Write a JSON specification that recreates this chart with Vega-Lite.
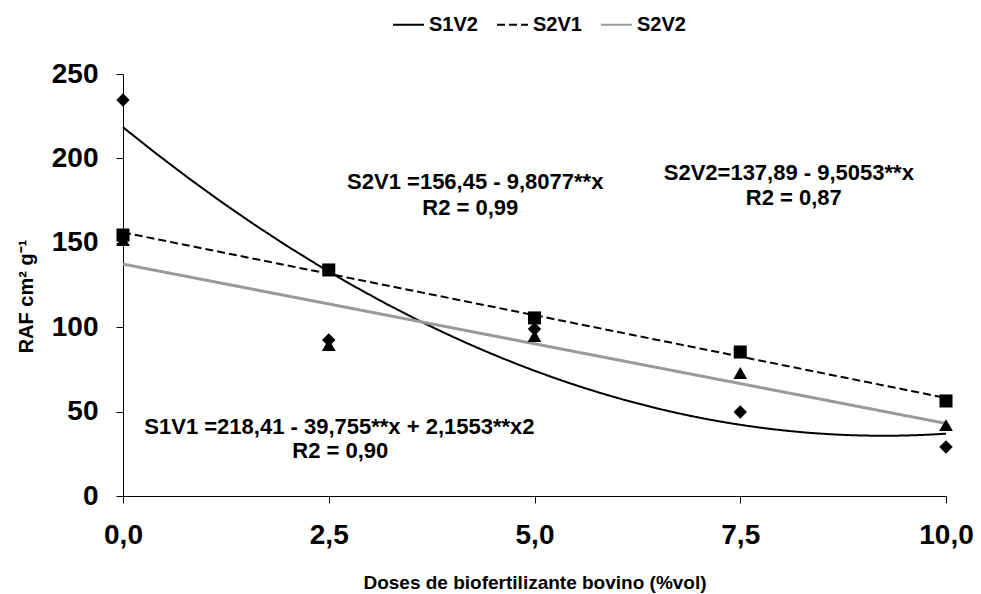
{
  "$schema": "https://vega.github.io/schema/vega-lite/v6.json",
  "width": 823,
  "height": 422,
  "autosize": {"type": "none"},
  "padding": {"left": 123, "top": 74, "right": 35, "bottom": 98},
  "background": "white",
  "config": {"view": {"stroke": null}, "font": "Liberation Sans"},
  "datasets": {
    "pts": [
      {"series": "S1V2", "dose": 0, "raf": 234.6},
      {"series": "S1V2", "dose": 2.5, "raf": 92.4},
      {"series": "S1V2", "dose": 5, "raf": 98.9},
      {"series": "S1V2", "dose": 7.5, "raf": 49.8},
      {"series": "S1V2", "dose": 10, "raf": 29},
      {"series": "S2V1", "dose": 0, "raf": 154.6},
      {"series": "S2V1", "dose": 2.5, "raf": 133.9},
      {"series": "S2V1", "dose": 5, "raf": 105.5},
      {"series": "S2V1", "dose": 7.5, "raf": 85.3},
      {"series": "S2V1", "dose": 10, "raf": 56.3},
      {"series": "S2V2", "dose": 0, "raf": 151.7},
      {"series": "S2V2", "dose": 2.5, "raf": 89.5},
      {"series": "S2V2", "dose": 5, "raf": 94.8},
      {"series": "S2V2", "dose": 7.5, "raf": 72.9},
      {"series": "S2V2", "dose": 10, "raf": 42}
    ],
    "notes": [
      {"dose": 4.28, "raf": 181.9, "label": "S2V1 =156,45 - 9,8077**x"},
      {"dose": 4.22, "raf": 166.5, "label": "R2 = 0,99"},
      {"dose": 8.09, "raf": 187.2, "label": "S2V2=137,89 - 9,5053**x"},
      {"dose": 8.15, "raf": 172.4, "label": "R2 = 0,87"},
      {"dose": 2.63, "raf": 36.7, "label": "S1V1 =218,41 - 39,755**x + 2,1553**x2"},
      {"dose": 2.64, "raf": 22.5, "label": "R2 = 0,90"}
    ]
  },
  "encoding": {
    "x": {
      "field": "dose", "type": "quantitative",
      "scale": {"domain": [0, 10], "nice": false, "zero": false},
      "axis": {
        "title": "Doses de biofertilizante bovino (%vol)",
        "values": [0, 2.5, 5, 7.5, 10],
        "labelExpr": "replace(format(datum.value, '.1f'), '.', ',')",
        "grid": false, "domainColor": "black", "tickColor": "black", "tickSize": 7,
        "labelPadding": 18, "labelFlush": false, "labelOverlap": false,
        "labelFont": "Liberation Sans", "labelFontWeight": "bold", "labelFontSize": 28, "labelColor": "black",
        "titleFont": "Liberation Sans", "titleFontWeight": "bold", "titleFontSize": 19, "titleColor": "black",
        "titlePadding": 24
      }
    },
    "y": {
      "field": "raf", "type": "quantitative",
      "scale": {"domain": [0, 250], "nice": false},
      "axis": {
        "title": "RAF cm² g⁻¹",
        "values": [0, 50, 100, 150, 200, 250],
        "grid": false, "domainColor": "black", "tickColor": "black", "tickSize": 7,
        "labelPadding": 18, "labelFlush": false, "labelOverlap": false,
        "labelFont": "Liberation Sans", "labelFontWeight": "bold", "labelFontSize": 28, "labelColor": "black",
        "titleFont": "Liberation Sans", "titleFontWeight": "bold", "titleFontSize": 20, "titleColor": "black",
        "titlePadding": 15, "titleY": 222
      }
    }
  },
  "layer": [
    {
      "data": {"name": "pts"},
      "transform": [
        {"filter": "datum.series === 'S1V2'"},
        {"regression": "raf", "on": "dose", "method": "poly", "order": 2, "extent": [0, 10], "groupby": ["series"]}
      ],
      "mark": {"type": "line", "strokeWidth": 2},
      "encoding": {
        "color": {"field": "series", "type": "nominal",
          "scale": {"domain": ["S1V2", "S2V1", "S2V2"], "range": ["#000000", "#000000", "#9a9a9a"]},
          "legend": {"title": null, "orient": "none", "legendX": 269, "legendY": -66, "direction": "horizontal",
            "symbolType": "stroke", "symbolSize": 961, "symbolStrokeWidth": 2,
            "labelFont": "Liberation Sans", "labelFontWeight": "bold", "labelFontSize": 20, "labelColor": "black",
            "labelOffset": 4, "columnPadding": 15, "padding": 0}},
        "strokeDash": {"field": "series", "type": "nominal",
          "scale": {"domain": ["S1V2", "S2V1", "S2V2"], "range": [[1, 0], [8, 4], [1, 0]]},
          "legend": {"title": null, "orient": "none", "legendX": 269, "legendY": -66, "direction": "horizontal",
            "symbolType": "stroke", "symbolSize": 961, "symbolStrokeWidth": 2,
            "labelFont": "Liberation Sans", "labelFontWeight": "bold", "labelFontSize": 20, "labelColor": "black",
            "labelOffset": 4, "columnPadding": 15, "padding": 0}}
      }
    },
    {
      "data": {"name": "pts"},
      "transform": [
        {"filter": "datum.series === 'S2V1'"},
        {"regression": "raf", "on": "dose", "method": "linear", "extent": [0, 10], "groupby": ["series"]}
      ],
      "mark": {"type": "line", "strokeWidth": 2},
      "encoding": {
        "color": {"field": "series", "type": "nominal"},
        "strokeDash": {"field": "series", "type": "nominal"}
      }
    },
    {
      "data": {"name": "pts"},
      "transform": [
        {"filter": "datum.series === 'S2V2'"},
        {"regression": "raf", "on": "dose", "method": "linear", "extent": [0, 10], "groupby": ["series"]}
      ],
      "mark": {"type": "line", "strokeWidth": 3},
      "encoding": {
        "color": {"field": "series", "type": "nominal"},
        "strokeDash": {"field": "series", "type": "nominal"}
      }
    },
    {
      "data": {"name": "pts"},
      "transform": [{"filter": "datum.series === 'S1V2'"}],
      "mark": {"type": "point", "shape": "diamond", "filled": true, "opacity": 1, "color": "black", "size": 180}
    },
    {
      "data": {"name": "pts"},
      "transform": [{"filter": "datum.series === 'S2V1'"}],
      "mark": {"type": "point", "shape": "square", "filled": true, "opacity": 1, "color": "black", "size": 170}
    },
    {
      "data": {"name": "pts"},
      "transform": [{"filter": "datum.series === 'S2V2'"}],
      "mark": {"type": "point", "shape": "triangle-up", "filled": true, "opacity": 1, "color": "black", "size": 190}
    },
    {
      "data": {"name": "notes"},
      "mark": {"type": "text", "font": "Liberation Sans", "fontWeight": "bold", "fontSize": 22,
        "align": "center", "baseline": "alphabetic", "color": "black"},
      "encoding": {"text": {"field": "label", "type": "nominal"}}
    }
  ]
}
